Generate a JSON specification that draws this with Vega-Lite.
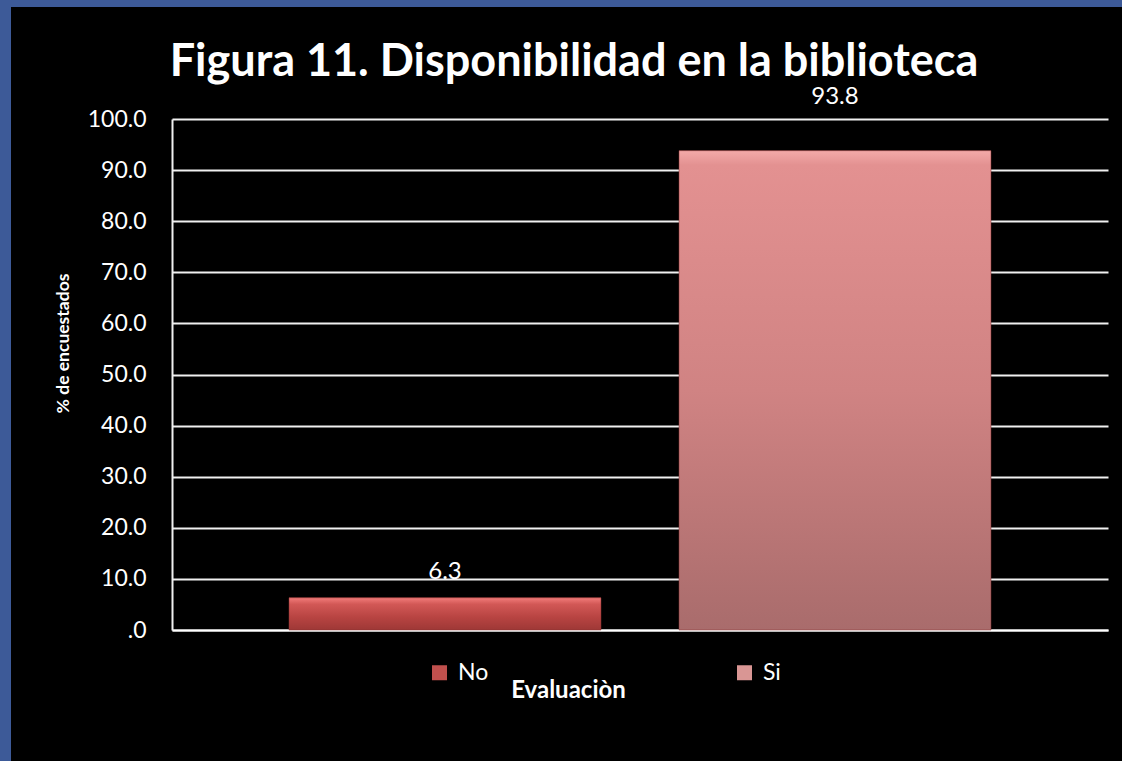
{
  "$schema": "https://vega.github.io/schema/vega-lite/v6.json",
  "background": "#000000",
  "padding": 0,
  "spacing": 0,
  "config": {"view": {"stroke": null}, "concat": {"spacing": 0}},
  "vconcat": [
    {
      "width": 1122, "height": 7,
      "data": {"values": []},
      "mark": "rect",
      "encoding": {},
      "view": {"fill": "#3D5A98", "stroke": null}
    },
    {
      "columns": 2,
      "bounds": "flush",
      "spacing": {"row": 0, "column": 161},
      "concat": [
        {
          "width": 11, "height": 112,
          "data": {"values": []},
          "mark": "rect",
          "encoding": {},
          "view": {"fill": "#3D5A98", "stroke": null}
        },
        {
          "width": 1, "height": 112,
          "data": {"values": []},
          "mark": "rect",
          "encoding": {},
          "view": {"fill": null, "stroke": null}
        },
        {
          "width": 11, "height": 642,
          "data": {"values": []},
          "mark": "rect",
          "encoding": {},
          "view": {"fill": "#3D5A98", "stroke": null}
        },
        {
          "width": 936,
          "height": 511,
          "title": {
            "text": "Figura 11. Disponibilidad en la biblioteca",
            "font": "Lato", "fontSize": 45, "fontWeight": "bold", "color": "#FFFFFF",
            "anchor": "middle", "frame": "bounds", "offset": 0, "dx": -7
          },
          "data": {"values": [
            {"Evaluacion": "No", "pct": 6.3},
            {"Evaluacion": "Si", "pct": 93.8}
          ]},
          "encoding": {
            "x": {
              "field": "Evaluacion", "type": "nominal", "sort": ["No", "Si"],
              "scale": {"paddingInner": 0.2, "paddingOuter": 0.3},
              "axis": {
                "labels": false, "ticks": false, "domain": true,
                "domainColor": "#FFFFFF", "domainWidth": 2, "grid": false,
                "title": "Evaluaciòn", "titleFont": "Lato", "titleFontSize": 24,
                "titleFontWeight": "bold", "titleColor": "#FFFFFF",
                "titleX": 396, "titleY": 67, "titleBaseline": "alphabetic", "titleAlign": "center"
              }
            },
            "y": {
              "field": "pct", "type": "quantitative",
              "scale": {"domain": [0, 100], "nice": false},
              "axis": {
                "values": [0, 10, 20, 30, 40, 50, 60, 70, 80, 90, 100],
                "labelExpr": "datum.value === 0 ? '.0' : format(datum.value, '.1f')",
                "labelFont": "Lato", "labelFontSize": 23, "labelColor": "#FFFFFF",
                "labelPadding": 26, "ticks": false,
                "grid": true, "gridColor": "#F0F0F0", "gridWidth": 2,
                "domain": true, "domainColor": "#F0F0F0", "domainWidth": 2,
                "title": "% de encuestados", "titleFont": "Lato", "titleFontSize": 17.5,
                "titleFontWeight": "bold", "titleColor": "#FFFFFF",
                "titleAngle": 270, "titleX": -109, "titleY": 224,
                "titleBaseline": "middle", "titleAlign": "center"
              }
            }
          },
          "layer": [
            {
              "mark": {"type": "bar"},
              "encoding": {
                "color": {
                  "field": "Evaluacion", "type": "nominal",
                  "scale": {"domain": ["No", "Si"], "range": ["#C0504D", "#D99694"]},
                  "legend": {
                    "orient": "none", "legendX": 428, "legendY": 661,
                    "direction": "horizontal", "title": null,
                    "symbolType": "square", "symbolSize": 225, "symbolStrokeWidth": 0,
                    "symbolOpacity": 1,
                    "labelFont": "Lato", "labelFontSize": 23, "labelColor": "#FFFFFF",
                    "labelOffset": 7, "columnPadding": 244
                  }
                }
              }
            },
            {
              "mark": {"type": "bar", "stroke": "#8A3030", "strokeWidth": 0.5},
              "encoding": {
                "fill": {
                  "condition": {
                    "test": "datum.Evaluacion === 'No'",
                    "value": {
                      "gradient": "linear", "x1": 0, "y1": 0, "x2": 0, "y2": 1,
                      "stops": [
                        {"offset": 0, "color": "#F27C7A"},
                        {"offset": 0.2, "color": "#D25856"},
                        {"offset": 0.6, "color": "#B84442"},
                        {"offset": 1, "color": "#9E3836"}
                      ]
                    }
                  },
                  "value": {
                    "gradient": "linear", "x1": 0, "y1": 0, "x2": 0, "y2": 1,
                    "stops": [
                      {"offset": 0, "color": "#F3AAA9"},
                      {"offset": 0.03, "color": "#E39191"},
                      {"offset": 0.5, "color": "#D08383"},
                      {"offset": 1, "color": "#A96C6C"}
                    ]
                  }
                }
              }
            },
            {
              "transform": [{"filter": "datum.Evaluacion === 'No'"}],
              "mark": {"type": "text", "dy": -19, "baseline": "alphabetic", "align": "center",
                       "font": "Lato", "fontSize": 24, "color": "#FFFFFF"},
              "encoding": {"text": {"field": "pct", "type": "quantitative", "format": ".1f"}}
            },
            {
              "transform": [{"filter": "datum.Evaluacion === 'Si'"}],
              "mark": {"type": "text", "dy": -47, "baseline": "alphabetic", "align": "center",
                       "font": "Lato", "fontSize": 24, "color": "#FFFFFF"},
              "encoding": {"text": {"field": "pct", "type": "quantitative", "format": ".1f"}}
            }
          ]
        }
      ]
    }
  ]
}
